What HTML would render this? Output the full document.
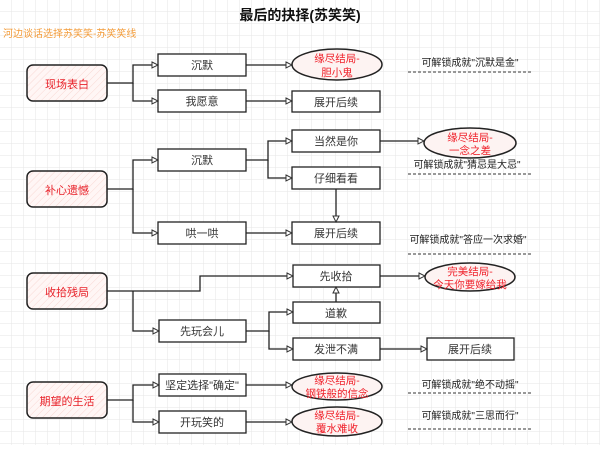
<!DOCTYPE html>
<html><head><meta charset="utf-8"><style>
body{margin:0;width:600px;height:445px;overflow:hidden;background:#fff}
svg text{font-family:"Liberation Sans","Noto Sans CJK SC",sans-serif}
</style></head><body>
<svg width="600" height="445" viewBox="0 0 600 445" xmlns="http://www.w3.org/2000/svg">
<defs>
<pattern id="g" width="12" height="12" patternUnits="userSpaceOnUse"><path d="M12 0V12H0" fill="none" stroke="#e6e6e6" stroke-width="1"/></pattern>
<pattern id="h" width="5" height="5" patternUnits="userSpaceOnUse" patternTransform="rotate(45)"><rect width="5" height="5" fill="#fff6f5"/><line x1="0" y1="0" x2="0" y2="5" stroke="#f8d8d4" stroke-width="1"/></pattern>
<marker id="a" markerWidth="8" markerHeight="8" refX="7" refY="4" orient="auto" markerUnits="userSpaceOnUse"><path d="M1 1L7 4L1 7Z" fill="#fff" stroke="#333" stroke-width="1"/></marker>
</defs>
<rect width="600" height="445" fill="url(#g)"/>
<text x="300" y="20" font-size="14" font-weight="bold" text-anchor="middle" fill="#111">最后的抉择(苏笑笑)</text>
<text x="3" y="37" font-size="10" fill="#f39c3a">河边谈话选择苏笑笑-苏笑笑线</text>

<g fill="url(#h)" stroke="#222" stroke-width="1.5">
<rect x="27" y="65" width="80" height="36" rx="6"/>
<rect x="27" y="171" width="80" height="36" rx="6"/>
<rect x="27" y="273" width="80" height="36" rx="6"/>
<rect x="27" y="382" width="80" height="36" rx="6"/>
</g>
<g font-size="11" fill="#e8222a" text-anchor="middle">
<text x="67" y="88">现场表白</text>
<text x="67" y="194">补心遗憾</text>
<text x="67" y="296">收拾残局</text>
<text x="67" y="405">期望的生活</text>
</g>

<g fill="#fff" stroke="#222" stroke-width="1.3">
<rect x="158" y="54" width="88" height="22"/>
<rect x="158" y="90" width="88" height="22"/>
<rect x="158" y="149" width="88" height="22"/>
<rect x="158" y="222" width="88" height="22"/>
<rect x="159" y="320" width="87" height="22"/>
<rect x="159" y="374" width="87" height="22"/>
<rect x="159" y="411" width="87" height="22"/>
<rect x="292" y="91" width="88" height="21"/>
<rect x="292" y="130" width="88" height="22"/>
<rect x="292" y="167" width="88" height="22"/>
<rect x="292" y="222" width="88" height="22"/>
<rect x="293" y="265" width="87" height="22"/>
<rect x="293" y="302" width="87" height="21"/>
<rect x="293" y="338" width="87" height="22"/>
<rect x="427" y="338" width="87" height="22"/>
</g>
<g fill="#fdf3f2" stroke="#222" stroke-width="1.5">
<ellipse cx="337" cy="64.5" rx="45" ry="15.5"/>
<ellipse cx="470" cy="143" rx="46" ry="15"/>
<ellipse cx="470" cy="277" rx="45" ry="14"/>
<ellipse cx="337" cy="386.5" rx="45" ry="13.5"/>
<ellipse cx="337" cy="421.5" rx="45" ry="14.5"/>
</g>
<g font-size="11" fill="#333" text-anchor="middle">
<text x="202" y="69">沉默</text>
<text x="202" y="105">我愿意</text>
<text x="202" y="164">沉默</text>
<text x="202" y="237">哄一哄</text>
<text x="202" y="335">先玩会儿</text>
<text x="202" y="389">坚定选择"确定"</text>
<text x="202" y="426">开玩笑的</text>
<text x="336" y="106">展开后续</text>
<text x="336" y="145">当然是你</text>
<text x="336" y="182">仔细看看</text>
<text x="336" y="237">展开后续</text>
<text x="336" y="280">先收拾</text>
<text x="336" y="317">道歉</text>
<text x="336" y="353">发泄不满</text>
<text x="470" y="353">展开后续</text>
</g>
<g font-size="10.5" fill="#f0202a" text-anchor="middle">
<text x="337" y="62">缘尽结局-</text><text x="337" y="76">胆小鬼</text>
<text x="470" y="141">缘尽结局-</text><text x="470" y="154">一念之差</text>
<text x="470" y="275">完美结局-</text><text x="470" y="288">今天你要嫁给我</text>
<text x="337" y="384">缘尽结局-</text><text x="337" y="397">钢铁般的信念</text>
<text x="337" y="419">缘尽结局-</text><text x="337" y="432">覆水难收</text>
</g>
<g font-size="10" fill="#222" text-anchor="middle">
<text x="470" y="66">可解锁成就"沉默是金"</text>
<text x="467" y="168">可解锁成就"猜忌是大忌"</text>
<text x="468" y="243">可解锁成就"答应一次求婚"</text>
<text x="470" y="388">可解锁成就"绝不动摇"</text>
<text x="470" y="419">可解锁成就"三思而行"</text>
</g>
<g stroke="#333" stroke-dasharray="3,2" stroke-width="1">
<line x1="408" y1="72" x2="532" y2="72"/>
<line x1="408" y1="174" x2="532" y2="174"/>
<line x1="408" y1="254" x2="532" y2="254"/>
<line x1="408" y1="393" x2="532" y2="393"/>
<line x1="408" y1="429" x2="532" y2="429"/>
</g>

<g fill="none" stroke="#222" stroke-width="1.3" marker-end="url(#a)">
<path d="M107 83H133V65H158"/>
<path d="M133 83V101H158"/>
<path d="M246 65H292"/>
<path d="M246 101H292"/>
<path d="M107 189H133V160H158"/>
<path d="M133 189V233H158"/>
<path d="M246 160H268V141H292"/>
<path d="M268 160V178H292"/>
<path d="M380 141H424"/>
<path d="M336 189V222"/>
<path d="M246 233H292"/>
<path d="M107 291H200V276H293"/>
<path d="M133 291V331H159"/>
<path d="M246 331H269V312H293"/>
<path d="M269 331V349H293"/>
<path d="M336 302V287"/>
<path d="M380 276H425"/>
<path d="M380 349H427"/>
<path d="M107 400H133V385H159"/>
<path d="M133 400V422H159"/>
<path d="M246 385H292"/>
<path d="M246 422H292"/>
</g>
</svg>
</body></html>
